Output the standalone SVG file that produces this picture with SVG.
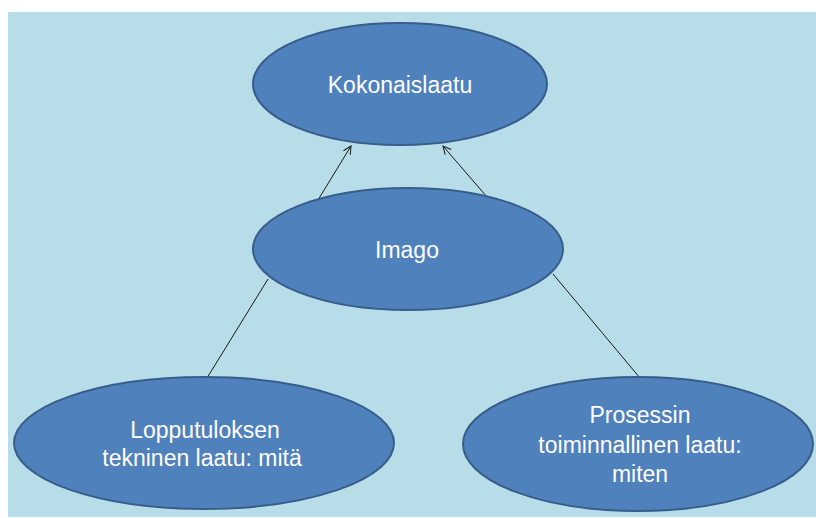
<svg xmlns="http://www.w3.org/2000/svg" width="816" height="518" viewBox="0 0 816 518">
<defs>
<style>
.node{fill:#4f81bd;stroke:#385d8a;stroke-width:2}
.lbl{fill:#ffffff;font-family:"Liberation Sans",Arial,sans-serif;font-size:23px;text-anchor:middle}
.conn{stroke:#1a1a1a;stroke-width:1;fill:none}
</style>
<marker id="arr" viewBox="0 0 10 10" refX="9" refY="5" markerWidth="10" markerHeight="10" markerUnits="userSpaceOnUse" orient="auto">
<path d="M1,1 L9,5 L1,9" fill="none" stroke="#1a1a1a" stroke-width="1"/>
</marker>
</defs>
<rect x="0" y="0" width="816" height="518" fill="#ffffff"/>
<rect x="8" y="12" width="808" height="505" fill="#b7dde8"/>
<g id="connectors">
<line class="conn" x1="318" y1="200" x2="351" y2="146" marker-end="url(#arr)"/>
<line class="conn" x1="487" y1="197" x2="443" y2="146" marker-end="url(#arr)"/>
<line class="conn" x1="268" y1="279" x2="207" y2="378"/>
<line class="conn" x1="553" y1="274" x2="640" y2="378"/>
</g>
<g id="kokonaislaatu">
<ellipse class="node" cx="400" cy="84" rx="147" ry="61"/>
<text class="lbl" x="400" y="93">Kokonaislaatu</text>
</g>
<g id="imago">
<ellipse class="node" cx="408" cy="249" rx="155" ry="61"/>
<text class="lbl" x="407" y="258">Imago</text>
</g>
<g id="lopputulos">
<ellipse class="node" cx="204" cy="443" rx="190" ry="66"/>
<text class="lbl" x="205" y="438">Lopputuloksen</text>
<text class="lbl" x="202" y="466">tekninen laatu: mitä</text>
</g>
<g id="prosessi">
<ellipse class="node" cx="638" cy="444" rx="175" ry="67"/>
<text class="lbl" x="640" y="423">Prosessin</text>
<text class="lbl" x="640" y="453">toiminnallinen laatu:</text>
<text class="lbl" x="640" y="482">miten</text>
</g>
</svg>
